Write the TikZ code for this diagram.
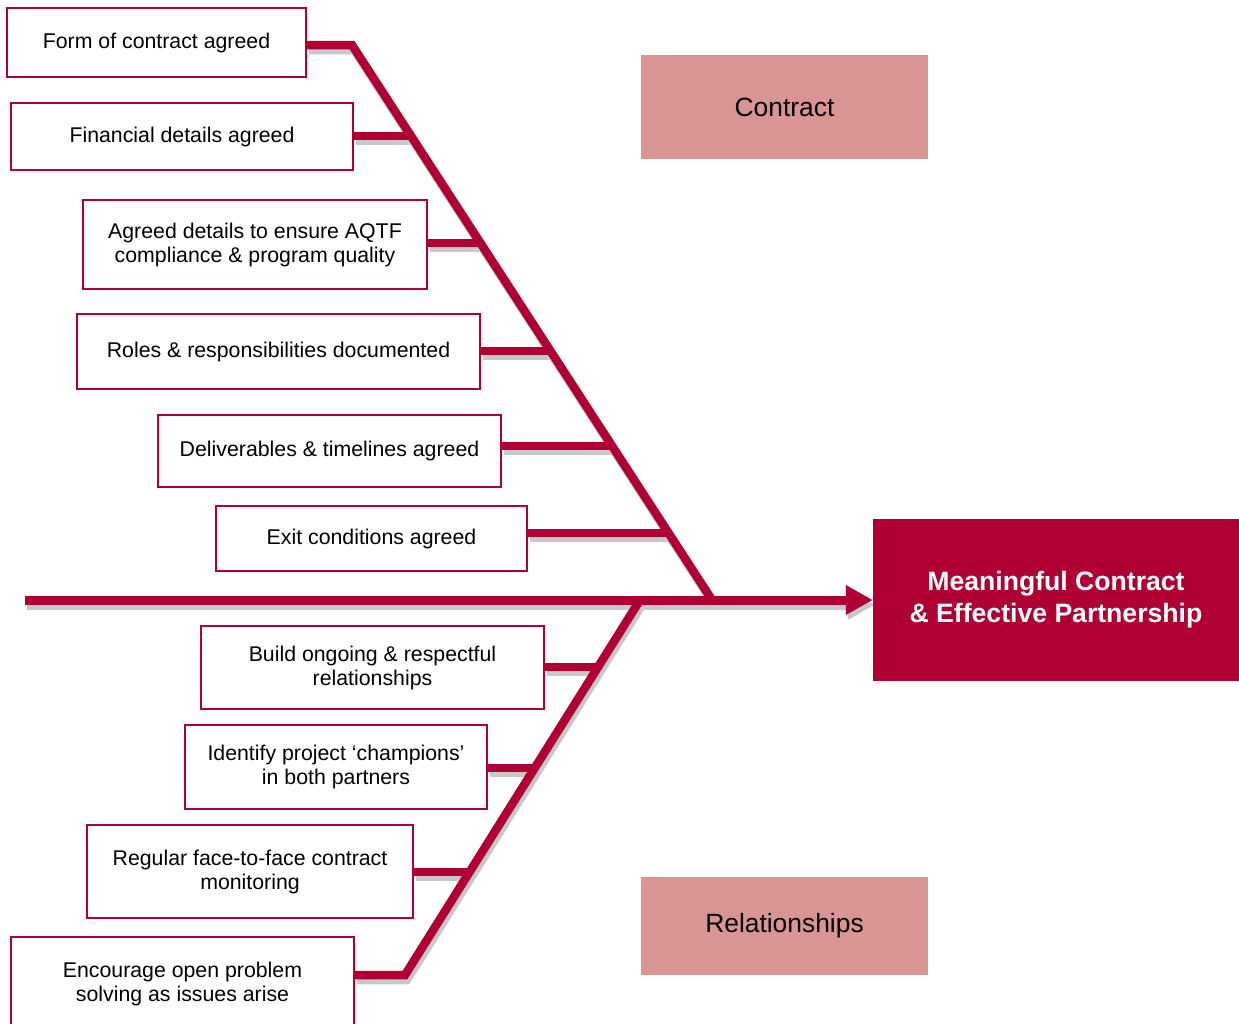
\documentclass[tikz,border=0pt]{standalone}
\usepackage{fontspec}
\setmainfont{Liberation Sans}
\usetikzlibrary{arrows.meta,backgrounds}
\definecolor{bone}{HTML}{B00033}
\definecolor{shade}{HTML}{C8C8C8}
\definecolor{catfill}{HTML}{D99594}

% all bones of the fishbone diagram, drawn with the current stroke colour
\newcommand\fishbones{%
  \draw (c1.east |- T) -- (T) -- (B);
  \foreach \c/\j in {c2/j2,c3/j3,c4/j4,c5/j5,c6/j6}
    \draw (\c.east |- \j) -- (\j);
  \draw (r4.east |- E) -- (E) -- (L);
  \foreach \c/\j in {r1/k1,r2/k2,r3/k3}
    \draw (\c.east |- \j) -- (\j);
  \draw[spine] (S) -- (eff.west);
}

\begin{document}
\begin{tikzpicture}[x=1pt,y=-1pt,
  causebox/.style={draw=bone, line width=1.6pt, fill=white, align=center,
    inner sep=0pt, font=\fontsize{21.3}{24}\selectfont},
  catbox/.style={fill=catfill, inner sep=0pt, font=\fontsize{26.4}{30}\selectfont},
  effectbox/.style={fill=bone, text=white, inner sep=0pt, align=center,
    font=\bfseries\fontsize{26.6}{32}\selectfont},
  bonestroke/.style={line width=8.5pt, line join=miter},
  spine/.style={line width=9pt, -{Triangle[length=27pt,width=28pt]}},
]
\clip (0,0) rectangle (1239,1023);

% joints of the skeleton
\coordinate (S) at (25,600);
\coordinate (T) at (352,45);
\coordinate (B) at (712,600);
\coordinate (L) at (640,600);
\coordinate (E) at (405,975);
\coordinate (j2) at (410.8,136);
\coordinate (j3) at (479.8,243);
\coordinate (j4) at (549.6,351);
\coordinate (j5) at (611.0,446);
\coordinate (j6) at (667.2,533);
\coordinate (k1) at (599.0,667);
\coordinate (k2) at (535.4,768);
\coordinate (k3) at (469.9,872);

% contract causes
\node[causebox, minimum width=299pt, minimum height=69pt] (c1) at (156.5,42.5) {Form of contract agreed};
\node[causebox, minimum width=342pt, minimum height=67pt] (c2) at (182,136.5) {Financial details agreed};
\node[causebox, minimum width=344pt, minimum height=89pt] (c3) at (255,244.5) {Agreed details to ensure AQTF\\compliance \& program quality};
\node[causebox, minimum width=403pt, minimum height=75pt] (c4) at (278.5,351.5) {Roles \& responsibilities documented};
\node[causebox, minimum width=343pt, minimum height=72pt] (c5) at (329.5,451) {Deliverables \& timelines agreed};
\node[causebox, minimum width=311pt, minimum height=65pt] (c6) at (371.5,538.5) {Exit conditions agreed};

% relationship causes
\node[causebox, minimum width=343pt, minimum height=83pt] (r1) at (372.5,667.5) {Build ongoing \& respectful\\relationships};
\node[causebox, minimum width=302pt, minimum height=84pt] (r2) at (336,767) {Identify project ‘champions’\\in both partners};
\node[causebox, minimum width=326pt, minimum height=93pt] (r3) at (250,871.5) {Regular face-to-face contract\\monitoring};
\node[causebox, minimum width=343pt, minimum height=93pt] (r4) at (182.5,983.5) {Encourage open problem\\solving as issues arise};

% category labels and effect
\node[catbox, minimum width=287pt, minimum height=104pt] (cat1) at (784.5,107) {Contract};
\node[catbox, minimum width=287pt, minimum height=98pt] (cat2) at (784.5,926) {Relationships};
\node[effectbox, minimum width=366pt, minimum height=162pt] (eff) at (1056,600) {Meaningful Contract\\\& Effective Partnership};

\begin{pgfonlayer}{background}
  % drop shadow of the skeleton
  \begin{scope}[transform canvas={shift={(2pt,-5pt)}}, bonestroke, draw=shade, color=shade]
    \fishbones
  \end{scope}
  % skeleton
  \begin{scope}[bonestroke, draw=bone, color=bone]
    \fishbones
  \end{scope}
\end{pgfonlayer}
\end{tikzpicture}
\end{document}
